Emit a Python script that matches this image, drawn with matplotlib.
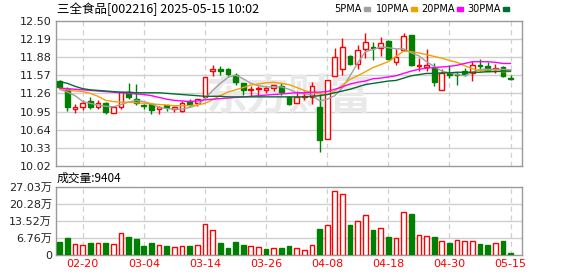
import numpy as np
import pandas as pd
import matplotlib
matplotlib.use('Agg')
import matplotlib.pyplot as plt
from matplotlib.patches import Rectangle

plt.rcParams['font.family'] = ['DejaVu Sans', 'Noto Sans CJK SC']

# trading days shown
dates = ['02-17', '02-18', '02-19', '02-20', '02-21', '02-24', '02-25', '02-26', '02-27', '02-28',
         '03-03', '03-04', '03-05', '03-06', '03-07', '03-10', '03-11', '03-12', '03-13', '03-14',
         '03-17', '03-18', '03-19', '03-20', '03-21', '03-24', '03-25', '03-26', '03-27', '03-28',
         '03-31', '04-01', '04-02', '04-03', '04-07', '04-08', '04-09', '04-10', '04-11', '04-14',
         '04-15', '04-16', '04-17', '04-18', '04-21', '04-22', '04-23', '04-24', '04-25', '04-28',
         '04-29', '04-30', '05-06', '05-07', '05-08', '05-09', '05-12', '05-13', '05-14', '05-15']

opens = [11.47, 11.34, 11.00, 11.03, 11.13, 11.03, 11.09, 10.93, 11.03, 11.29,
         11.17, 11.06, 11.08, 11.00, 11.06, 10.99, 10.96, 11.13, 11.09, 11.20,
         11.64, 11.68, 11.68, 11.57, 11.43, 11.32, 11.33, 11.31, 11.35, 11.38,
         11.20, 11.09, 11.20, 11.19, 11.02, 10.48, 11.56, 11.68, 11.90, 11.76,
         12.02, 12.05, 12.03, 12.16, 11.79, 12.00, 12.26, 11.72, 11.71, 11.70,
         11.31, 11.61, 11.59, 11.65, 11.61, 11.74, 11.73, 11.68, 11.71, 11.53]
highs = [11.48, 11.36, 11.07, 11.15, 11.20, 11.15, 11.11, 11.02, 11.29, 11.44,
         11.42, 11.07, 11.09, 11.04, 11.06, 11.04, 11.13, 11.17, 11.16, 11.54,
         11.75, 11.73, 11.70, 11.61, 11.44, 11.38, 11.39, 11.39, 11.41, 11.44,
         11.21, 11.30, 11.30, 11.45, 11.27, 11.48, 12.03, 12.20, 11.92, 12.09,
         12.29, 12.14, 12.23, 12.17, 12.02, 12.29, 12.26, 11.87, 12.02, 11.78,
         11.68, 11.75, 11.63, 11.69, 11.81, 11.85, 11.79, 11.76, 11.73, 11.57]
lows = [11.34, 10.96, 10.93, 10.98, 11.00, 10.99, 10.90, 10.93, 11.00, 11.17,
        11.06, 11.00, 10.90, 10.91, 10.96, 10.94, 10.94, 11.03, 11.04, 11.20,
        11.56, 11.58, 11.56, 11.40, 11.24, 11.21, 11.21, 11.27, 11.30, 11.24,
        11.06, 11.09, 11.14, 11.07, 10.26, 10.48, 11.55, 11.58, 11.74, 11.67,
        11.86, 11.83, 11.89, 11.84, 11.75, 12.00, 11.72, 11.65, 11.65, 11.38,
        11.31, 11.52, 11.40, 11.55, 11.47, 11.65, 11.65, 11.60, 11.54, 11.48]
closes = [11.36, 11.03, 11.02, 11.09, 11.03, 11.09, 10.95, 11.02, 11.29, 11.20,
          11.10, 11.04, 10.98, 11.02, 11.02, 11.02, 11.10, 11.07, 11.16, 11.54,
          11.68, 11.65, 11.59, 11.46, 11.32, 11.34, 11.35, 11.35, 11.40, 11.28,
          11.07, 11.19, 11.21, 11.39, 10.47, 11.48, 11.88, 12.05, 11.76, 12.00,
          12.14, 12.03, 12.12, 11.85, 11.88, 12.24, 11.74, 11.75, 11.75, 11.45,
          11.61, 11.58, 11.57, 11.59, 11.75, 11.72, 11.65, 11.70, 11.55, 11.51]

# moving averages as displayed
ma5 = [11.33, 11.28, 11.22, 11.12, 11.09, 11.06, 11.04, 11.03, 11.07, 11.11,
       11.14, 11.12, 11.08, 11.02, 11.00, 10.99, 10.99, 11.02, 11.06, 11.17,
       11.31, 11.43, 11.53, 11.57, 11.51, 11.43, 11.39, 11.37, 11.37, 11.37,
       11.33, 11.27, 11.25, 11.24, 11.13, 11.16, 11.22, 11.36, 11.56, 11.78,
       11.97, 12.01, 12.05, 12.04, 12.02, 12.02, 11.95, 11.90, 11.80, 11.72,
       11.64, 11.61, 11.58, 11.56, 11.62, 11.67, 11.67, 11.67, 11.67, 11.66]
ma10 = [11.34, 11.32, 11.30, 11.29, 11.26, 11.21, 11.14, 11.12, 11.11, 11.11,
        11.10, 11.09, 11.08, 11.07, 11.06, 11.05, 11.05, 11.05, 11.06, 11.09,
        11.15, 11.22, 11.28, 11.32, 11.36, 11.40, 11.42, 11.44, 11.45, 11.43,
        11.41, 11.36, 11.31, 11.27, 11.25, 11.24, 11.30, 11.40, 11.50, 11.56,
        11.63, 11.70, 11.75, 11.80, 11.89, 11.98, 11.97, 11.95, 11.92, 11.89,
        11.86, 11.82, 11.79, 11.73, 11.68, 11.65, 11.64, 11.64, 11.63, 11.63]
ma20 = [11.35, 11.34, 11.33, 11.32, 11.31, 11.30, 11.29, 11.28, 11.27, 11.26,
        11.25, 11.24, 11.22, 11.19, 11.16, 11.14, 11.13, 11.12, 11.13, 11.15,
        11.16, 11.17, 11.18, 11.19, 11.20, 11.21, 11.22, 11.23, 11.24, 11.25,
        11.26, 11.27, 11.27, 11.28, 11.28, 11.29, 11.33, 11.37, 11.42, 11.45,
        11.47, 11.51, 11.52, 11.54, 11.56, 11.60, 11.64, 11.67, 11.69, 11.70,
        11.71, 11.72, 11.74, 11.77, 11.80, 11.80, 11.80, 11.79, 11.77, 11.77]
ma30 = [11.46, 11.43, 11.38, 11.34, 11.32, 11.31, 11.30, 11.29, 11.28, 11.28,
        11.27, 11.27, 11.27, 11.27, 11.26, 11.25, 11.24, 11.23, 11.22, 11.21,
        11.21, 11.21, 11.20, 11.20, 11.20, 11.20, 11.20, 11.20, 11.20, 11.20,
        11.20, 11.20, 11.20, 11.21, 11.22, 11.24, 11.27, 11.30, 11.33, 11.37,
        11.41, 11.43, 11.45, 11.47, 11.48, 11.52, 11.56, 11.58, 11.60, 11.60,
        11.61, 11.61, 11.62, 11.62, 11.62, 11.62, 11.63, 11.63, 11.64, 11.64]

# volume in 万 shares, and up(1)/down(0) colour flag
volume = [5.26, 6.85, 4.22, 3.96, 4.75, 4.75, 4.75, 4.35, 8.58, 7.26,
          6.33, 3.56, 4.75, 3.96, 3.56, 3.17, 3.56, 3.56, 3.96, 12.14,
          9.76, 4.75, 2.77, 5.15, 3.96, 3.56, 3.17, 2.37, 2.64, 2.77,
          3.56, 2.64, 1.86, 3.82, 10.29, 11.74, 25.3, 24.0, 11.87, 13.33,
          15.7, 9.9, 10.69, 7.12, 6.6, 16.9, 16.2, 7.8, 7.52, 7.12,
          5.42, 4.75, 5.8, 5.42, 5.42, 4.35, 3.96, 4.75, 5.54, 0.9404]
vol_up = [0, 0, 1, 1, 0, 1, 0, 1, 1, 0, 0, 0, 0, 1, 0, 1, 1, 0, 1, 1,
          1, 0, 0, 0, 0, 1, 1, 0, 1, 0, 0, 1, 1, 1, 0, 1, 1, 1, 0, 1,
          1, 0, 1, 0, 1, 1, 0, 1, 1, 0, 1, 0, 1, 1, 1, 0, 0, 1, 0, 0]

price_ticks = [10.02, 10.33, 10.64, 10.95, 11.26, 11.57, 11.88, 12.19, 12.50]
vol_ticks = [0, 6.76, 13.52, 20.28, 27.03]
vol_labels = ['0', '6.76万', '13.52万', '20.28万', '27.03万']

RED = '#ff0000'
GREEN = '#008000'
GRID = '#d0d0d0'
FRAME = '#999999'

df = pd.DataFrame({'date': dates, 'open': opens, 'high': highs, 'low': lows,
                   'close': closes, 'vol': volume, 'vol_up': vol_up})
x = np.arange(len(df))
up = df['close'] >= df['open']
label_idx = list(range(3, len(df), 8))

W, H = 578, 276
fig = plt.figure(figsize=(W / 100, H / 100), dpi=100)
ax = fig.add_axes([56 / W, 1 - 166 / H, 466 / W, 145.3 / H])
axv = fig.add_axes([56 / W, 1 - 255 / H, 466 / W, 68.3 / H])

for a in (ax, axv):
    a.set_xlim(-0.5, 60.5)
    for s in a.spines.values():
        s.set_color(FRAME)
        s.set_linewidth(1)
    a.tick_params(length=0, labelsize=8, colors='#222222', pad=3)
    for i in label_idx:
        a.axvline(i, color=GRID, lw=0.9, ls=(0, (4, 3)), zorder=0)

# price panel
ax.set_ylim(10.02, 12.50)
ax.set_yticks(price_ticks)
ax.set_yticklabels(['%.2f' % t for t in price_ticks])
for t in price_ticks[1:-1]:
    ax.axhline(t, color=GRID, lw=1, zorder=0)
ax.set_xticks([])

ax.text(0.5, 0.48, '东方财富', transform=ax.transAxes, fontsize=30, color='#e9e9e9',
        ha='center', va='center', family=['Noto Sans CJK SC'], style='italic',
        fontweight='bold', zorder=0)

ax.vlines(x, df['low'], df['high'], colors=np.where(up, RED, GREEN), lw=1, zorder=2)
body_lo = np.minimum(df['open'], df['close'])
body_hi = np.maximum(df['open'], df['close'])
ax.bar(x[up], (body_hi - body_lo)[up], bottom=body_lo[up], width=0.62,
       facecolor='white', edgecolor=RED, linewidth=1, zorder=3)
ax.bar(x[~up], (body_hi - body_lo)[~up], bottom=body_lo[~up], width=0.62,
       facecolor=GREEN, edgecolor=GREEN, linewidth=1, zorder=3)

ax.plot(x, ma5, color='#a0a0a0', lw=1, zorder=4)
ax.plot(x, ma10, color='#f5a000', lw=1, zorder=4)
ax.plot(x, ma20, color='#ff00ff', lw=1, zorder=4)
ax.plot(x, ma30, color='#006e2e', lw=1, zorder=4)

# volume panel
vup = df['vol_up'] == 1
axv.set_ylim(0, 27.03)
axv.set_yticks(vol_ticks)
axv.set_yticklabels(vol_labels)
for t in vol_ticks[1:-1]:
    axv.axhline(t, color=GRID, lw=1, zorder=0)
axv.bar(x[vup], df['vol'][vup], width=0.62, facecolor='white', edgecolor=RED,
        linewidth=1, zorder=3)
axv.bar(x[~vup], df['vol'][~vup], width=0.62, facecolor=GREEN, edgecolor=GREEN,
        linewidth=1, zorder=3)
axv.set_xticks(label_idx)
axv.set_xticklabels([dates[i] for i in label_idx], color=RED, fontsize=8)

# header texts
fig.text(57 / W, 1 - 9 / H, '三全食品[002216] 2025-05-15 10:02', fontsize=9,
         va='center', ha='left', family=['Noto Sans CJK SC', 'DejaVu Sans'])
fig.text(57 / W, 1 - 178 / H, '成交量:%d' % round(volume[-1] * 10000), fontsize=8.5,
         va='center', ha='left', family=['Noto Sans CJK SC', 'DejaVu Sans'])
legend = [('5PMA', 364, '#a0a0a0'), ('10PMA', 411, '#f5a000'),
          ('20PMA', 457, '#ff00ff'), ('30PMA', 503, '#006e2e')]
for name, sx, col in legend:
    fig.text((sx - 2) / W, 1 - 9 / H, name, fontsize=7, va='center', ha='right')
    fig.patches.append(Rectangle((sx / W, 1 - 11 / H), 6 / W, 4 / H,
                                 transform=fig.transFigure, color=col, figure=fig))

fig.savefig('out.png', dpi=100)
